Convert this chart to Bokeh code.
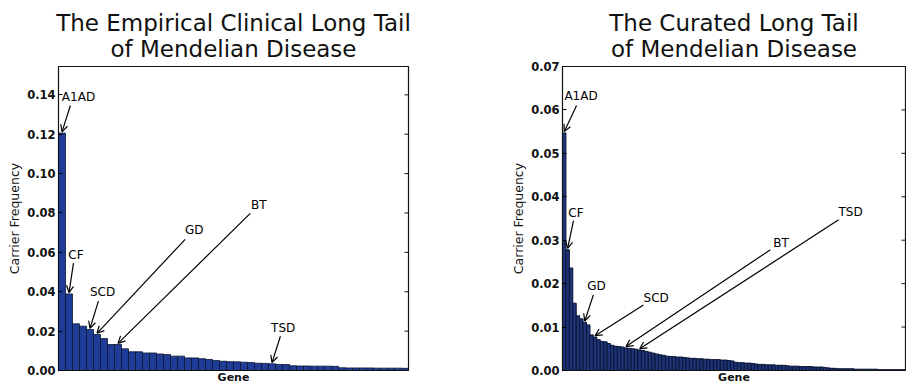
from bokeh.plotting import figure
from bokeh.layouts import row
from bokeh.models import (Arrow, OpenHead, Label, Title, LinearAxis, FixedTicker,
                          NumeralTickFormatter, Range1d, ColumnDataSource)
from bokeh.embed import file_html
from bokeh.resources import INLINE

# ---------------- data ----------------
empirical_freq = [0.1206, 0.0389, 0.0237, 0.0225, 0.0208, 0.0183, 0.0162, 0.0132, 0.0132, 0.0110,
                  0.0095, 0.0095, 0.0089, 0.0089, 0.0084, 0.0081, 0.0073, 0.0073, 0.0064, 0.0064,
                  0.0060, 0.0056, 0.0051, 0.0047, 0.0045, 0.0044, 0.0042, 0.0040, 0.0037, 0.0036,
                  0.0034, 0.0031, 0.0030, 0.0024, 0.0023, 0.0023, 0.0022, 0.0022, 0.0022, 0.0021,
                  0.0014, 0.0013, 0.0013, 0.0013, 0.0013, 0.0012, 0.0012, 0.0012, 0.0012, 0.0011]

curated_freq = [0.0547, 0.0278, 0.0236, 0.0155, 0.0126, 0.0119, 0.0111, 0.0105, 0.0082, 0.0077,
                0.0071, 0.0067, 0.0066, 0.0062, 0.0058, 0.0056, 0.0055, 0.0054, 0.0052, 0.0051,
                0.0050, 0.0049, 0.0047, 0.0046, 0.0044, 0.0042, 0.0040, 0.0038, 0.0036, 0.0035,
                0.0033, 0.0032, 0.0032, 0.0031, 0.0031, 0.0030, 0.0029, 0.0028, 0.0028, 0.0027,
                0.0027, 0.0026, 0.0026, 0.0025, 0.0025, 0.0025, 0.0024, 0.0024, 0.0023, 0.0022,
                0.0019, 0.0018, 0.0018, 0.0017, 0.0017, 0.0016, 0.0015, 0.0014, 0.0014, 0.0013,
                0.0013, 0.0013, 0.0012, 0.0012, 0.0012, 0.0011, 0.0010, 0.0010, 0.0010, 0.0009,
                0.0009, 0.0009, 0.0009, 0.0008, 0.0008, 0.0008, 0.0007, 0.0006, 0.0005, 0.0005,
                0.0004, 0.0004, 0.0004, 0.0004, 0.0004, 0.0003, 0.0003, 0.0003, 0.0003, 0.0003,
                0.0003, 0.0003, 0.0002, 0.0002, 0.0002, 0.0002, 0.0002, 0.0002, 0.0002, 0.0002]

empirical_ticks = [0.00, 0.02, 0.04, 0.06, 0.08, 0.10, 0.12, 0.14]
curated_ticks = [0.00, 0.01, 0.02, 0.03, 0.04, 0.05, 0.06, 0.07]

empirical_title = ["The Empirical Clinical Long Tail", "of Mendelian Disease"]
curated_title = ["The Curated Long Tail", "of Mendelian Disease"]

empirical_labels = ["A1AD", "CF", "SCD", "GD", "BT", "TSD"]
empirical_idx = [0, 1, 4, 5, 8, 30]
curated_labels = ["A1AD", "CF", "GD", "SCD", "BT", "TSD"]
curated_idx = [0, 1, 6, 9, 18, 22]

# annotation layout (text centre, arrow tail) in data units
empirical_text_xy = [(2.36, 0.139), (2.0, 0.0585), (5.8, 0.0398), (18.9, 0.0712), (28.1, 0.0839), (31.6, 0.0215)]
empirical_tail_xy = [(1.2, 0.1346), (1.64, 0.0545), (5.2, 0.0352), (17.6, 0.0666), (26.9, 0.0798), (31.2, 0.0174)]
curated_text_xy = [(4.9, 0.0631), (3.44, 0.0363), (9.4, 0.0195), (26.8, 0.0167), (63.2, 0.0294), (83.5, 0.0365)]
curated_tail_xy = [(3.6, 0.0610), (2.7, 0.0345), (8.5, 0.0174), (23.1, 0.0151), (60.1, 0.0278), (80.0, 0.0347)]

FONT = "DejaVu Sans"
BAR_LINE = "#0b1433"


def make_title(text):
    kw = dict(text=text, align="center", text_font=FONT, text_font_size="23px",
              text_line_height=1.0, text_font_style="normal", text_color="#111111",
              standoff=9)
    try:
        return Title(text_align="center", **kw)
    except Exception:
        return Title(**kw)


def make_panel(title_lines, freqs, ticks, ymax, labels, idxs, text_xy, tail_xy, tip_pad,
               width, min_left, min_right, min_top, min_bottom, bar_fill, bar_lw):
    n = len(freqs)
    p = figure(width=width, height=386, output_backend="svg", toolbar_location=None,
               x_range=Range1d(-0.5, n - 0.5), y_range=Range1d(0, ymax),
               min_border_left=min_left, min_border_right=min_right,
               min_border_top=min_top, min_border_bottom=min_bottom,
               x_axis_type=None, y_axis_type=None)
    p.grid.visible = False
    p.outline_line_color = "#111111"
    p.outline_line_width = 1.2
    p.background_fill_color = "white"
    p.border_fill_color = "white"

    src = ColumnDataSource(dict(x=list(range(n)), top=freqs))
    p.vbar(x="x", top="top", width=1.0, bottom=0, source=src,
           fill_color=bar_fill, line_color=BAR_LINE, line_width=bar_lw)

    # y axis left
    yax = LinearAxis(ticker=FixedTicker(ticks=ticks),
                     formatter=NumeralTickFormatter(format="0.00"),
                     axis_label="Carrier Frequency")
    yax.major_tick_in = 4
    yax.major_tick_out = 0
    yax.minor_tick_in = 0
    yax.minor_tick_out = 0
    yax.major_label_standoff = 3
    yax.major_label_text_font = FONT
    yax.major_label_text_font_size = "11.5px"
    yax.major_label_text_font_style = "bold"
    yax.major_label_text_color = "#111111"
    yax.axis_label_text_font = FONT
    yax.axis_label_text_font_size = "12.5px"
    yax.axis_label_text_font_style = "normal"
    yax.axis_label_text_color = "#111111"
    yax.axis_label_standoff = 2
    yax.axis_line_color = "#111111"
    p.add_layout(yax, "left")

    # inward tick marks on the right edge of the frame
    p.scatter(x=[n - 0.5] * len(ticks), y=ticks, marker="dash", size=8,
              line_color="#111111", line_width=1)

    # x axis: only the label
    xax = LinearAxis(ticker=FixedTicker(ticks=[]), axis_label="Gene")
    xax.major_tick_in = 0
    xax.major_tick_out = 0
    xax.minor_tick_in = 0
    xax.minor_tick_out = 0
    xax.major_label_standoff = 0
    xax.axis_label_standoff = 0
    xax.axis_label_text_font = FONT
    xax.axis_label_text_font_size = "11px"
    xax.axis_label_text_font_style = "bold"
    xax.axis_label_text_color = "#111111"
    xax.axis_line_color = "#111111"
    p.add_layout(xax, "below")

    p.add_layout(make_title("\n".join(title_lines)), "above")

    for lab, i, (tx, ty), (sx, sy) in zip(labels, idxs, text_xy, tail_xy):
        p.add_layout(Arrow(end=OpenHead(size=7, line_width=1.2, line_color="black"),
                           x_start=sx, y_start=sy, x_end=i, y_end=freqs[i] + tip_pad,
                           line_width=1.2, line_color="black"))
        p.add_layout(Label(x=tx, y=ty, text=lab, text_align="center",
                           text_baseline="middle", text_font=FONT,
                           text_font_size="12px", text_color="black"))
    return p


left = make_panel(empirical_title,
                  empirical_freq, empirical_ticks, 0.1544, empirical_labels, empirical_idx,
                  empirical_text_xy, empirical_tail_xy, 0.0006,
                  width=453, min_left=58, min_right=45, min_top=65, min_bottom=16,
                  bar_fill="#1f3d96", bar_lw=0.8)
right = make_panel(curated_title,
                   curated_freq, curated_ticks, 0.07, curated_labels, curated_idx,
                   curated_text_xy, curated_tail_xy, 0.0003,
                   width=453, min_left=109, min_right=1, min_top=66, min_bottom=15,
                   bar_fill="#1d3578", bar_lw=1.0)

layout = row(left, right)
open("out.html", "w").write(file_html(layout, INLINE))
